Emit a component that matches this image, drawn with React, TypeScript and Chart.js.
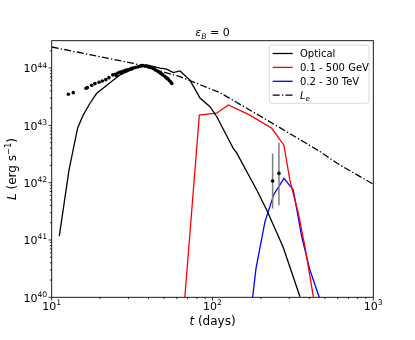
import React, { useEffect, useRef } from "react";
import { Chart, registerables } from "chart.js";

Chart.register(...registerables);

// ---- data (t in days, L in erg/s) ----
const optT = [11.15, 12.81, 14.5, 15.7, 17.3, 19.05, 21.45, 24.2, 26.6, 34.6, 39.0, 47.2, 51.9, 57.0, 62.8, 72.4, 83.6, 96.5, 106.6, 134, 141.3, 188.4, 217.3, 274.4, 350];
const optL = [1.17e41, 1.66e42, 9.0e42, 1.51e43, 2.43e43, 3.63e43, 4.73e43, 6.17e43, 7.59e43, 1.06e44, 1.13e44, 9.93e43, 9.55e43, 8.32e43, 8.91e43, 6.17e43, 3.0e43, 2.12e43, 1.4e43, 4.04e42, 3.3e42, 7.46e41, 3.34e41, 7.64e40, 1.02e40];

const obsT = [12.69, 13.62, 16.35, 16.65, 17.74, 18.58, 19.7, 20.64, 21.7, 22.7, 24.0, 24.8, 25.2, 25.8, 26.7, 27.2, 27.7, 28.7, 29.2, 29.8, 30.9, 31.4, 32.0, 33.2, 34.4, 35.7, 36.3, 37.0, 38.3, 39.7, 40.4, 41.2, 42.7, 43.5, 44.2, 45.8, 46.6, 47.5, 48.3, 49.2, 50.6, 51.3, 52.1, 53.0, 54.0, 55.0, 55.8];
const obsL = [3.49e43, 3.72e43, 4.44e43, 4.55e43, 5.0e43, 5.35e43, 5.65e43, 5.96e43, 6.28e43, 6.8e43, 7.6e43, 7.8e43, 7.4e43, 8.2e43, 8.5e43, 8.3e43, 8.8e43, 9.1e43, 9.0e43, 9.4e43, 9.7e43, 9.6e43, 1.0e44, 1.02e44, 1.05e44, 1.08e44, 1.1e44, 1.1e44, 1.08e44, 1.05e44, 1.06e44, 1.02e44, 9.8e43, 9.6e43, 9.2e43, 8.7e43, 8.5e43, 8.1e43, 7.9e43, 7.6e43, 7.1e43, 6.9e43, 6.6e43, 6.4e43, 6.0e43, 5.7e43, 5.4e43];

const gevT = [66, 82.8, 106.2, 125.4, 171, 233.5, 263, 278, 303, 342, 376, 424];
const gevL = [5e39, 1.51e43, 1.63e43, 2.27e43, 1.51e43, 8.9e42, 5.56e42, 4.5e42, 1.1e42, 2.9e41, 7.6e40, 1.02e40];

const tevT = [176, 186.4, 212, 241, 278.4, 318, 358.6, 403.6, 461];
const tevL = [8e39, 3.2e40, 2.09e41, 6.3e41, 1.19e42, 7.46e41, 1.14e41, 2.99e40, 1.0e40];

const leT = [10, 20, 32.2, 62.8, 111.3, 218, 466, 592, 1000];
const leL = [2.33e44, 1.58e44, 1.21e44, 7.08e43, 3.72e43, 1.24e43, 3.5e42, 2.2e42, 9.38e41];

const errT = [236.5, 259];
const errL = [1.07e42, 1.45e42];
const errLo = [3.55e41, 4.05e41];
const errHi = [3.24e42, 4.95e42];

const xTickExps = [1, 2, 3];
const yTickExps = [40, 41, 42, 43, 44];

const legendItems = [
  { label: "Optical", color: "#000000", dash: [] as number[] },
  { label: "0.1 - 500 GeV", color: "#ff0000", dash: [] as number[] },
  { label: "0.2 - 30 TeV", color: "#0000ff", dash: [] as number[] },
  { label: "Le", color: "#000000", dash: [7, 2.2, 1.4, 2.2] },
];

// ---- rich text helpers ----
type Seg = { s: string; size: number; it?: boolean; dy?: number };
const FAM = "'DejaVu Sans', sans-serif";
const fontOf = (g: Seg) => `${g.it ? "italic " : ""}${g.size}px ${FAM}`;
function segWidth(ctx: CanvasRenderingContext2D, segs: Seg[]) {
  let w = 0;
  for (const g of segs) {
    ctx.font = fontOf(g);
    w += ctx.measureText(g.s).width;
  }
  return w;
}
function drawSegs(ctx: CanvasRenderingContext2D, segs: Seg[], x: number, y: number) {
  let cx = x;
  for (const g of segs) {
    ctx.font = fontOf(g);
    ctx.fillText(g.s, cx, y + (g.dy || 0));
    cx += ctx.measureText(g.s).width;
  }
}
const powSegs = (e: number): Seg[] => [
  { s: "10", size: 11 },
  { s: String(e), size: 7.7, dy: -4.8 },
];

const decor = {
  id: "decor",
  afterDraw(chart: any) {
    const ctx: CanvasRenderingContext2D = chart.ctx;
    const xs = chart.scales.x;
    const ys = chart.scales.y;
    const a = chart.chartArea;
    ctx.save();
    ctx.fillStyle = "#000";
    ctx.strokeStyle = "#000";
    ctx.textAlign = "left";
    ctx.textBaseline = "alphabetic";

    const seg = (x1: number, y1: number, x2: number, y2: number) => {
      ctx.beginPath();
      ctx.moveTo(x1, y1);
      ctx.lineTo(x2, y2);
      ctx.stroke();
    };

    // ticks
    ctx.lineWidth = 0.8;
    for (const e of xTickExps) {
      const px = xs.getPixelForValue(Math.pow(10, e));
      seg(px, a.bottom, px, a.bottom + 3.2);
      if (e < xTickExps[xTickExps.length - 1]) {
        for (let m = 2; m <= 9; m++) {
          const mx = xs.getPixelForValue(m * Math.pow(10, e));
          seg(mx, a.bottom, mx, a.bottom + 1.8);
        }
      }
    }
    for (const e of yTickExps) {
      const py = ys.getPixelForValue(Math.pow(10, e));
      seg(a.left - 3.2, py, a.left, py);
      for (let m = 2; m <= 9; m++) {
        const v = m * Math.pow(10, e);
        if (v > ys.max) break;
        const my = ys.getPixelForValue(v);
        seg(a.left - 1.8, my, a.left, my);
      }
    }

    // tick labels
    for (const e of xTickExps) {
      const px = xs.getPixelForValue(Math.pow(10, e));
      const sg = powSegs(e);
      const w = segWidth(ctx, sg);
      drawSegs(ctx, sg, px - w / 2, a.bottom + 12.7);
    }
    for (const e of yTickExps) {
      const py = ys.getPixelForValue(Math.pow(10, e));
      const sg = powSegs(e);
      const w = segWidth(ctx, sg);
      drawSegs(ctx, sg, a.left - 4.5 - w, py + 4.3);
    }

    // frame
    ctx.lineWidth = 0.9;
    ctx.strokeRect(a.left, a.top, a.right - a.left, a.bottom - a.top);

    // title
    const title: Seg[] = [
      { s: "ε", size: 11, it: true },
      { s: "B", size: 7.7, it: true, dy: 2.4 },
      { s: " = 0", size: 11 },
    ];
    const tw = segWidth(ctx, title);
    drawSegs(ctx, title, (a.left + a.right) / 2 - tw / 2, 36.3);

    // x label
    const xl: Seg[] = [
      { s: "t", size: 12, it: true },
      { s: " (days)", size: 12 },
    ];
    const xw = segWidth(ctx, xl);
    drawSegs(ctx, xl, (a.left + a.right) / 2 - xw / 2, 324.5);

    // y label
    const yl: Seg[] = [
      { s: "L", size: 12, it: true },
      { s: " (erg s", size: 12 },
      { s: "−1", size: 8.4, dy: -4.8 },
      { s: ")", size: 12 },
    ];
    const yw = segWidth(ctx, yl);
    ctx.save();
    ctx.translate(16, (a.top + a.bottom) / 2);
    ctx.rotate(-Math.PI / 2);
    drawSegs(ctx, yl, -yw / 2, 0);
    ctx.restore();

    // legend
    const lx = 269.3, ly = 45, lw = 99.7, lh = 58.3, r = 2.5;
    ctx.beginPath();
    ctx.moveTo(lx + r, ly);
    ctx.lineTo(lx + lw - r, ly);
    ctx.arcTo(lx + lw, ly, lx + lw, ly + r, r);
    ctx.lineTo(lx + lw, ly + lh - r);
    ctx.arcTo(lx + lw, ly + lh, lx + lw - r, ly + lh, r);
    ctx.lineTo(lx + r, ly + lh);
    ctx.arcTo(lx, ly + lh, lx, ly + lh - r, r);
    ctx.lineTo(lx, ly + r);
    ctx.arcTo(lx, ly, lx + r, ly, r);
    ctx.closePath();
    ctx.fillStyle = "rgba(255,255,255,0.8)";
    ctx.fill();
    ctx.strokeStyle = "#d6d6d6";
    ctx.lineWidth = 0.9;
    ctx.stroke();

    legendItems.forEach((it, i) => {
      const cy = 53.5 + i * 13.9;
      ctx.strokeStyle = it.color;
      ctx.lineWidth = 1.3;
      ctx.setLineDash(it.dash);
      seg(272.7, cy, 292.7, cy);
      ctx.setLineDash([]);
      ctx.fillStyle = "#000";
      let segs: Seg[];
      if (it.label === "Le") {
        segs = [
          { s: "L", size: 10, it: true },
          { s: "e", size: 7, it: true, dy: 2 },
        ];
      } else {
        segs = [{ s: it.label, size: 10 }];
      }
      drawSegs(ctx, segs, 300, cy + 3.6);
    });

    ctx.restore();
  },
};

const pts = (t: number[], l: number[]) => t.map((v, i) => ({ x: v, y: l[i] }));

export default function App() {
  const ref = useRef<HTMLCanvasElement | null>(null);
  useEffect(() => {
    if (!ref.current) return;
    const lineDs = (data: any[], color: string, extra: any = {}) => ({
      data,
      borderColor: color,
      backgroundColor: color,
      borderWidth: 1.3,
      pointRadius: 0,
      fill: false,
      tension: 0,
      ...extra,
    });
    const errBars = errT.map((t, i) =>
      lineDs([{ x: t, y: errLo[i] }, { x: t, y: errHi[i] }], "#7f7f7f", { borderWidth: 1.5 })
    );
    const chart = new Chart(ref.current, {
      type: "line",
      data: {
        datasets: [
          {
            data: pts(errT, errL),
            showLine: false,
            pointRadius: 1.8,
            pointBackgroundColor: "#000",
            pointBorderWidth: 0,
            borderColor: "#000",
          },
          ...errBars,
          {
            data: pts(obsT, obsL),
            showLine: false,
            pointRadius: 1.8,
            pointBackgroundColor: "#000",
            pointBorderWidth: 0,
            borderColor: "#000",
          },
          lineDs(pts(optT, optL), "#000000"),
          lineDs(pts(gevT, gevL), "#ff0000"),
          lineDs(pts(tevT, tevL), "#0000ff"),
          lineDs(pts(leT, leL), "#000000", { borderDash: [7, 2.2, 1.4, 2.2] }),
        ] as any,
      },
      options: {
        animation: false,
        responsive: false,
        devicePixelRatio: 1,
        layout: { padding: { left: 51.7, right: 41.7, top: 40.7, bottom: 42.7 } },
        scales: {
          x: { type: "logarithmic", min: 10, max: 1000, display: false },
          y: { type: "logarithmic", min: 1e40, max: 3e44, display: false },
        },
        plugins: {
          legend: { display: false },
          title: { display: false },
          tooltip: { enabled: false },
        },
      } as any,
      plugins: [decor],
    });
    return () => chart.destroy();
  }, []);
  return (
    <div style={{ position: "absolute", left: 0, top: 0, width: 415, height: 340, background: "#fff" }}>
      <canvas ref={ref} width={415} height={340} style={{ width: 415, height: 340 }} />
    </div>
  );
}
